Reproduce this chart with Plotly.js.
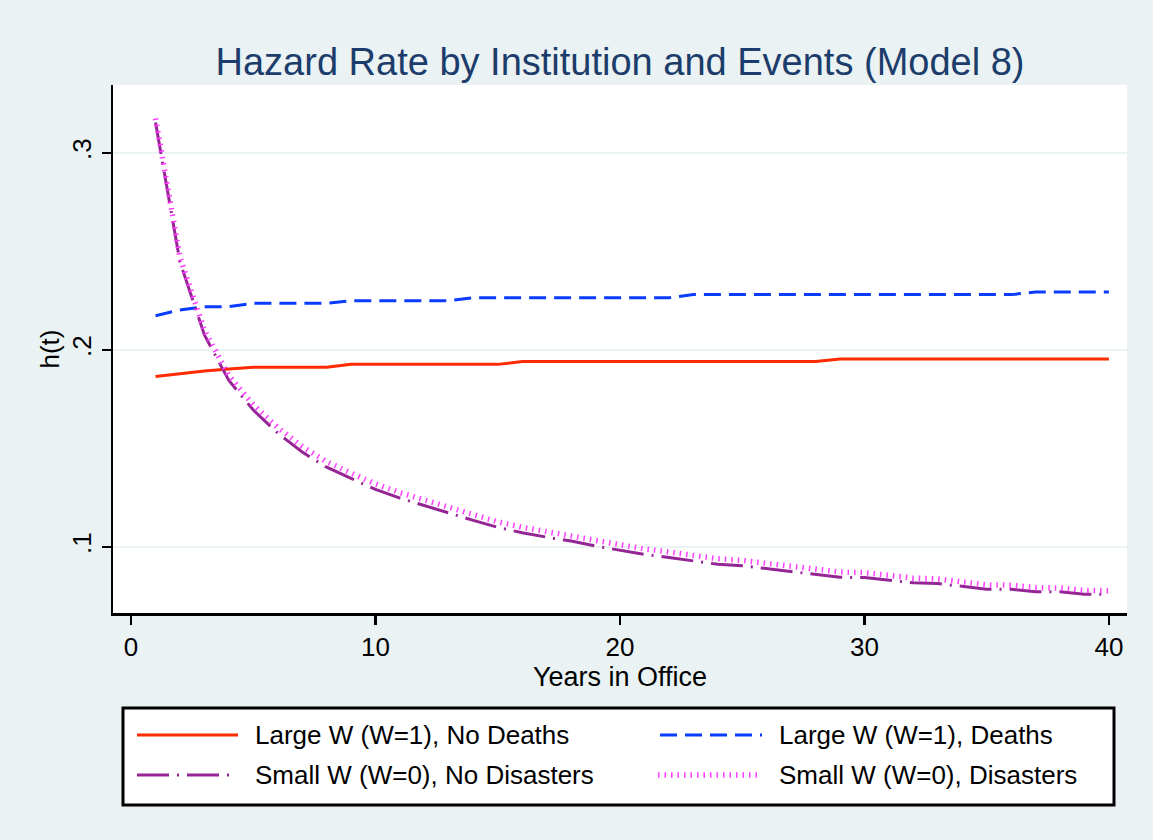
<!DOCTYPE html>
<html>
<head>
<meta charset="utf-8">
<script src="https://cdn.plot.ly/plotly-3.0.1.min.js"></script>
<style>html,body{margin:0;padding:0;background:#eaf2f3;}#chart{width:1153px;height:840px;}</style>
</head>
<body>
<div id="chart"></div>
<script>
const years = [1,2,3,4,5,6,7,8,9,10,11,12,13,14,15,16,17,18,19,20,21,22,23,24,25,26,27,28,29,30,31,32,33,34,35,36,37,38,39,40];

const largeNoDeaths = [0.1866,0.1880,0.1893,0.1903,0.1912,0.1912,0.1912,0.1912,0.1927,0.1927,
  0.1927,0.1927,0.1927,0.1927,0.1927,0.1941,0.1941,0.1941,0.1941,0.1941,
  0.1941,0.1941,0.1941,0.1941,0.1941,0.1941,0.1941,0.1941,0.1954,0.1954,
  0.1954,0.1954,0.1954,0.1954,0.1954,0.1954,0.1954,0.1954,0.1954,0.1954];

const largeDeaths = [0.2174,0.2203,0.2220,0.2220,0.2237,0.2237,0.2237,0.2237,0.2250,0.2250,
  0.2250,0.2250,0.2250,0.2265,0.2265,0.2265,0.2265,0.2265,0.2265,0.2265,
  0.2265,0.2265,0.2281,0.2281,0.2281,0.2281,0.2281,0.2281,0.2281,0.2281,
  0.2281,0.2281,0.2281,0.2281,0.2281,0.2281,0.2294,0.2294,0.2294,0.2294];

const smallNoDisasters = [0.3155,0.2447,0.2076,0.1845,0.1695,0.1578,0.1482,0.1405,0.1348,0.1292,
  0.1248,0.1210,0.1170,0.1135,0.1100,0.1072,0.1050,0.1030,0.1005,0.0983,
  0.0962,0.0947,0.0930,0.0912,0.0905,0.0890,0.0875,0.0860,0.0846,0.0845,
  0.0830,0.0818,0.0815,0.0800,0.0785,0.0785,0.0773,0.0773,0.0760,0.0760];

const smallDisasters = [0.3175,0.2470,0.2100,0.1870,0.1722,0.1606,0.1510,0.1433,0.1375,0.1320,
  0.1276,0.1238,0.1198,0.1163,0.1128,0.1100,0.1078,0.1058,0.1033,0.1011,
  0.0990,0.0975,0.0958,0.0940,0.0932,0.0917,0.0902,0.0887,0.0873,0.0870,
  0.0855,0.0842,0.0838,0.0823,0.0808,0.0806,0.0794,0.0792,0.0780,0.0778];

const seriesNames = ["Large W (W=1), No Deaths","Large W (W=1), Deaths","Small W (W=0), No Disasters","Small W (W=0), Disasters"];
const xTicks = [0,10,20,30,40];
const yTicks = [0.1,0.2,0.3];
const yTickText = [".1",".2",".3"];

const FONT = "Liberation Sans, Arial, Helvetica, sans-serif";
const styles = [
  {color: "#ff2a00", width: 3, dash: "solid"},
  {color: "#0a3cff", width: 3, dash: "17px,8px"},
  {color: "#952595", width: 3, dash: "32px,8px,2px,8px"},
  {color: "#ff3dff", width: 5.5, dash: "1.5px,5px"}
];
const seriesData = [largeNoDeaths, largeDeaths, smallNoDisasters, smallDisasters];

const traces = seriesData.map((d, i) => ({
  x: years, y: d, name: seriesNames[i], mode: "lines", showlegend: false,
  line: {color: styles[i].color, width: styles[i].width, dash: styles[i].dash}
}));

// plot area in pixels: left 113, right 1127, top 85, bottom 613
const L = 113, R = 1127, T = 85, B = 613;
const px = v => (v - L) / (R - L);
const py = v => (B - v) / (B - T);

// legend (drawn as a boxed key below the plot)
const shapes = [
  {type: "rect", xref: "paper", yref: "paper", x0: px(123), x1: px(1114), y0: py(708), y1: py(805),
   fillcolor: "#ffffff", line: {color: "#000000", width: 3}, layer: "below"}
];
const keyPos = [
  {x0: 137, x1: 238, y: 735, tx: 253},
  {x0: 660, x1: 762, y: 735, tx: 777},
  {x0: 137, x1: 236, y: 775, tx: 253},
  {x0: 658, x1: 762, y: 775, tx: 777}
];
const annotations = [];
keyPos.forEach((k, i) => {
  shapes.push({type: "line", xref: "paper", yref: "paper", x0: px(k.x0), x1: px(k.x1), y0: py(k.y), y1: py(k.y),
    line: {color: styles[i].color, width: styles[i].width, dash: styles[i].dash}});
  annotations.push({xref: "paper", yref: "paper", x: px(k.tx), y: py(k.y), xanchor: "left", yanchor: "middle",
    text: seriesNames[i], showarrow: false, font: {family: FONT, size: 26, color: "#000"}});
});

const layout = {
  width: 1153, height: 840,
  paper_bgcolor: "#eaf2f3", plot_bgcolor: "#ffffff",
  margin: {l: L, r: 1153 - R, t: T, b: 840 - B},
  font: {family: FONT, color: "#000000", size: 26},
  title: {text: "Hazard Rate by Institution and Events (Model 8)", font: {family: FONT, size: 38, color: "#1c3d6b"},
          x: 0.5, xref: "paper", xanchor: "center", y: 1 - 62/840, yref: "container", yanchor: "middle"},
  xaxis: {range: [-0.74, 40.74], tickvals: xTicks, ticks: "outside", ticklen: 9, tickwidth: 2.5, tickcolor: "#000",
          showline: true, linecolor: "#000", linewidth: 2.5, showgrid: false, zeroline: false,
          tickfont: {size: 26}, title: {text: "Years in Office", font: {size: 27}, standoff: 6}},
  yaxis: {range: [0.0665, 0.3345], tickvals: yTicks, ticktext: yTickText, tickangle: -90, ticks: "outside", ticklen: 9,
          tickwidth: 2.5, tickcolor: "#000", showline: true, linecolor: "#000", linewidth: 2.5,
          showgrid: true, gridcolor: "#eaf2f3", gridwidth: 2, zeroline: false,
          tickfont: {size: 26}, title: {text: "h(t)", font: {size: 26}, standoff: 0}},
  showlegend: false,
  shapes: shapes,
  annotations: annotations
};

Plotly.newPlot("chart", traces, layout, {displayModeBar: false, staticPlot: true});
</script>
</body>
</html>
